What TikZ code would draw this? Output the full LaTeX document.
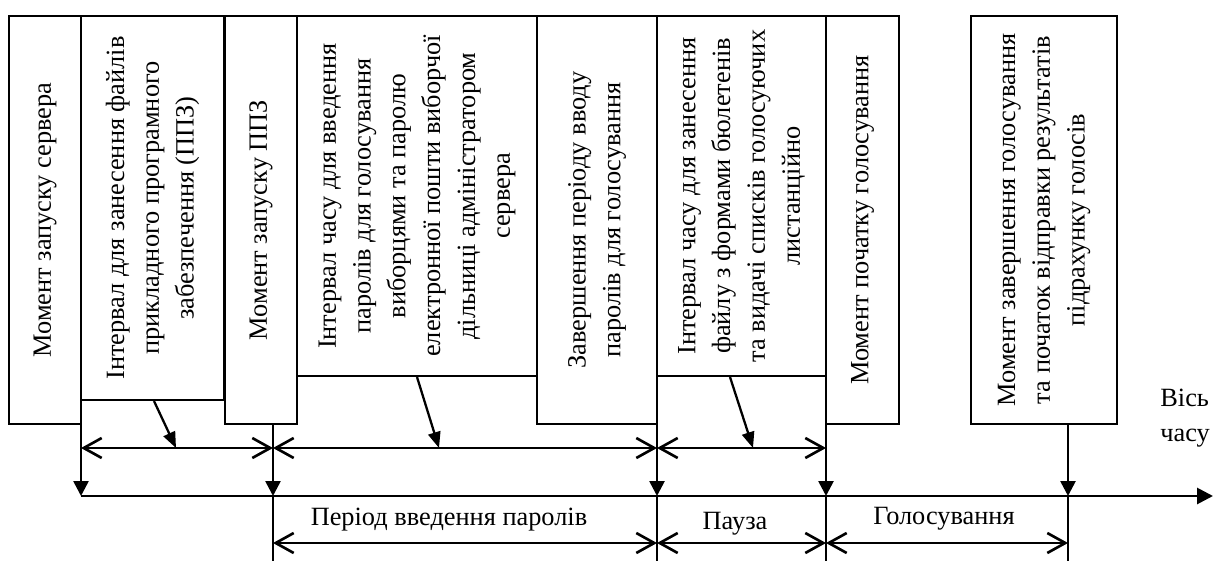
\documentclass[tikz,border=0pt]{standalone}
\usepackage{fontspec}
\setmainfont{Liberation Serif}
\usetikzlibrary{arrows.meta}

\tikzset{
  box/.style={draw, line width=1.2pt, rotate=90, align=center, inner sep=0pt,
    font=\fontsize{15}{19.8}\selectfont},
  lbl/.style={font=\fontsize{15}{19.8}\selectfont, inner sep=0pt},
  tick/.style={line width=1.5pt, -{Triangle[length=0.3cm,width=0.3cm]}},
  span/.style={line width=1.5pt, {Straight Barb[length=0.36cm,width=0.4cm]}-{Straight Barb[length=0.36cm,width=0.4cm]}},
  ptr/.style={line width=1.3pt, -{Triangle[length=0.32cm,width=0.25cm]}},
  axis/.style={line width=1.6pt, -{Triangle[length=0.32cm,width=0.32cm]}}
}

\begin{document}
\begin{tikzpicture}[x=0.02cm,y=-0.02cm]
  \useasboundingbox (0,0) rectangle (1214,561);

    %Boxes
    \node[box, minimum width=8.16cm, minimum height=1.44cm] (srv) at (45,220) {Момент запуску сервера};
    \node[box, minimum width=7.68cm, minimum height=2.86cm] (appl) at (152.5,208)
      {Інтервал для занесення файлів\\прикладного програмного\\забезпечення (ППЗ)};
    \node[box, minimum width=8.16cm, minimum height=1.44cm] (ppz) at (261,220) {Момент запуску ППЗ};
    \node[box, minimum width=7.2cm, minimum height=4.8cm] (pwd) at (417,196)
      {Інтервал часу для введення\\паролів для голосування\\виборцями та паролю\\електронної пошти виборчої\\дільниці адміністратором\\сервера};
    \node[box, minimum width=8.16cm, minimum height=2.4cm] (pend) at (597,220)
      {Завершення періоду вводу\\паролів для голосування};
    \node[box, minimum width=7.2cm, minimum height=3.38cm] (form) at (741.5,196)
      {Інтервал часу для занесення\\файлу з формами бюлетенів\\та видачі списків голосуючих\\листанційно};
    \node[box, minimum width=8.16cm, minimum height=1.46cm] (vote) at (862.5,220) {Момент початку голосування};
    \node[box, minimum width=8.16cm, minimum height=2.92cm] (fin) at (1044,220)
      {Момент завершення голосування\\та початок відправки результатів\\підрахунку голосів};

    %Time points
    \coordinate (t0) at (81,496);
    \coordinate (t1) at (273,496);
    \coordinate (t2) at (657,496);
    \coordinate (t3) at (826,496);
    \coordinate (t4) at (1068,496);
    \coordinate (tend) at (1213,496);

    \draw[tick] (t0 |- appl.west) -- (t0);
    \draw[tick] (t1 |- ppz.west) -- (t1);
    \draw[tick] (t2 |- pend.west) -- (t2);
    \draw[tick] (t3 |- vote.west) -- (t3);
    \draw[tick] (t4 |- fin.west) -- (t4);
    \draw[axis] (t0) -- (tend);
    \node[lbl, anchor=north west, align=left] (ax) at (1160,389) {Вісь\\часу};

    %Intervals
    \coordinate (i0) at (81,448);
    \coordinate (i1) at (273,448);
    \coordinate (i2) at (657,448);
    \coordinate (i3) at (826,448);
    \draw[span] (i0) -- (i1);
    \draw[span] (i1) -- (i2);
    \draw[span] (i2) -- (i3);
    \draw[ptr] (appl.west) ++(1.5,0) -- (176,448);
    \draw[ptr] (pwd.west) -- (439,448);
    \draw[ptr] (form.west) ++(-11.5,0) -- (753,448);

    %Periods
    \foreach \p in {t1,t2,t3,t4}
      \draw[line width=0.6pt] (\p) -- ++(0,65);
    \coordinate (d1) at (273,543);
    \coordinate (d2) at (657,543);
    \coordinate (d3) at (826,543);
    \coordinate (d4) at (1068,543);
    \draw[span] (d1) -- (d2);
    \draw[span] (d2) -- (d3);
    \draw[span] (d3) -- (d4);
    \node[lbl] (per) at (449,520) {Період введення паролів};
    \node[lbl] (pau) at (735,524) {Пауза};
    \node[lbl] (gol) at (944,519) {Голосування};

  \end{tikzpicture}
\end{document}
